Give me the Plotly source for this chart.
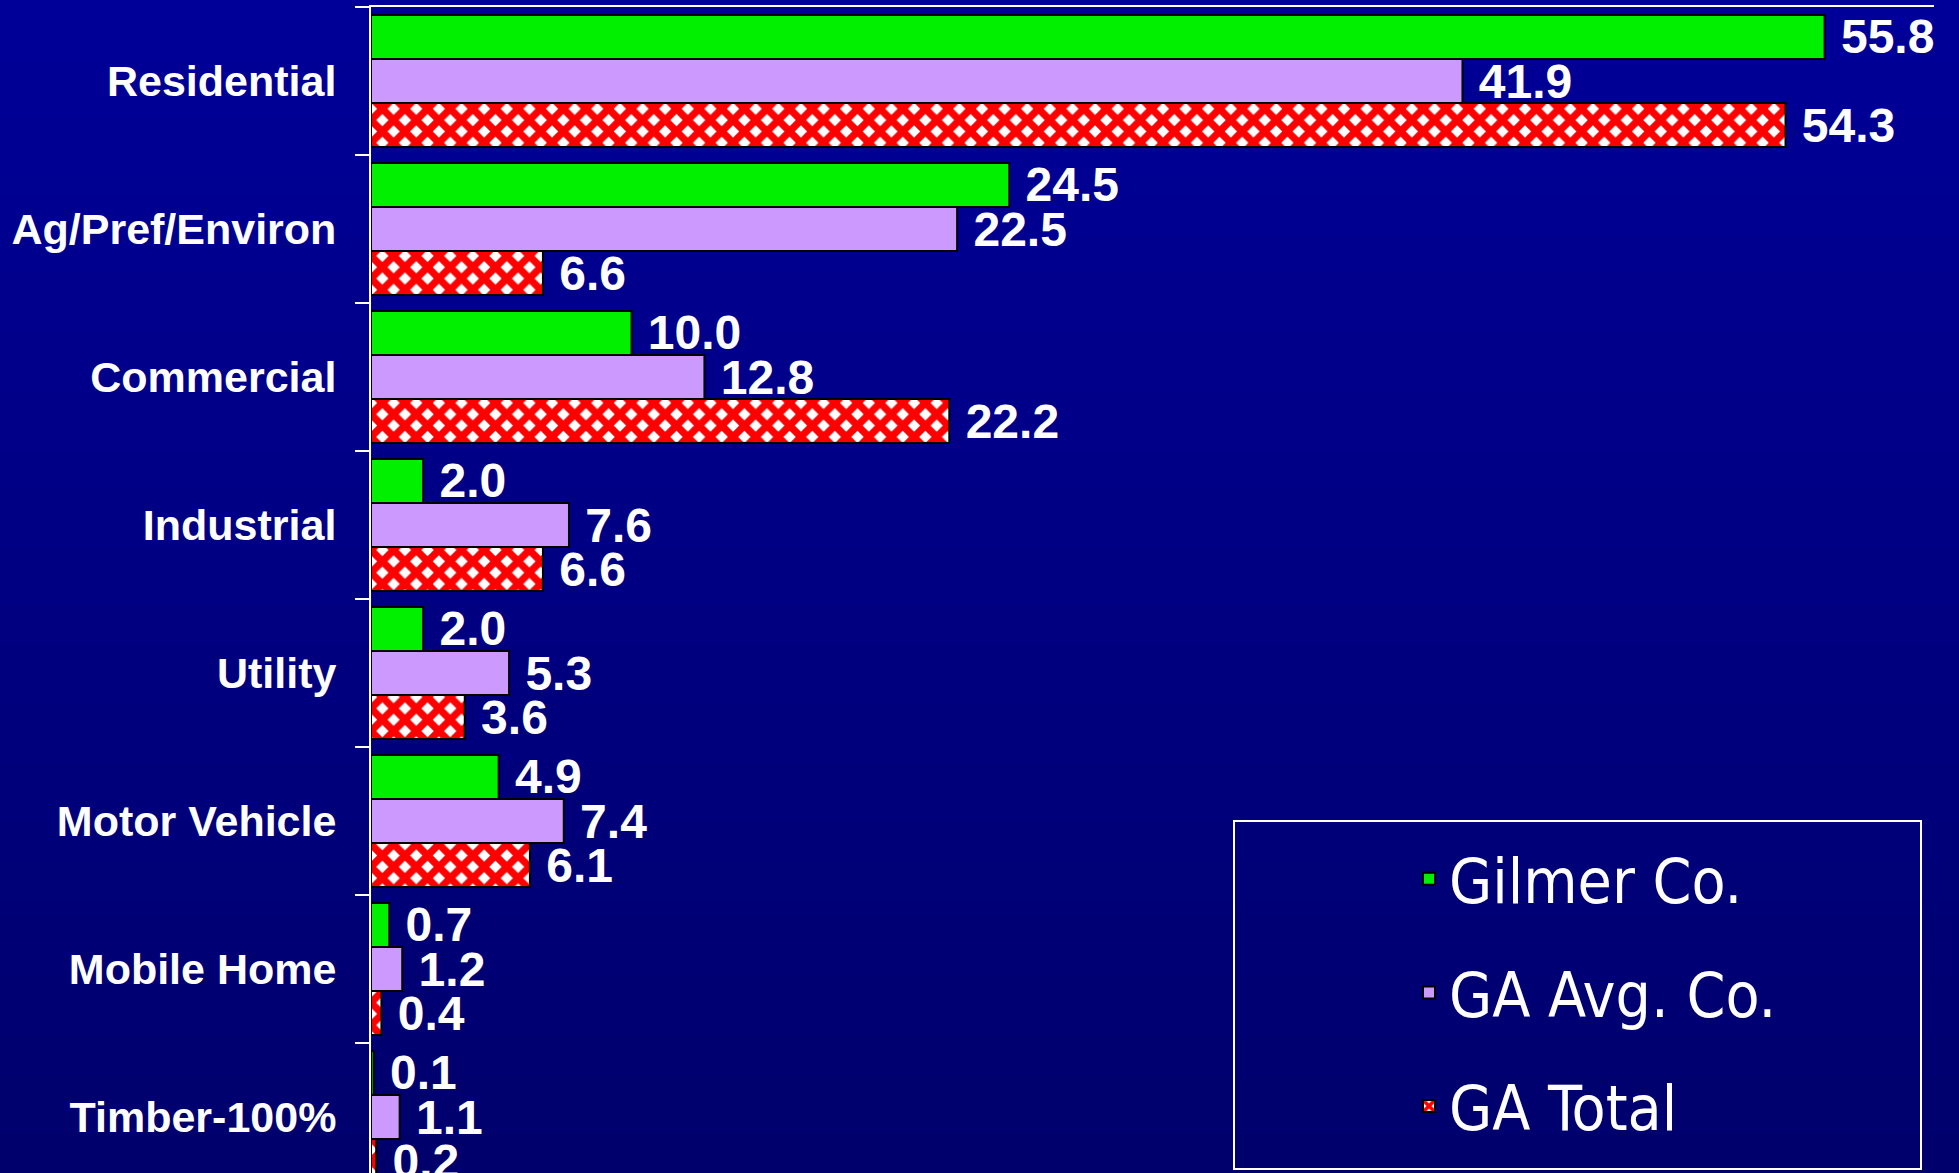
import plotly.graph_objects as go

categories = ["Residential", "Ag/Pref/Environ", "Commercial", "Industrial",
              "Utility", "Motor Vehicle", "Mobile Home", "Timber-100%"]
gilmer = [55.8, 24.5, 10.0, 2.0, 2.0, 4.9, 0.7, 0.1]
ga_avg = [41.9, 22.5, 12.8, 7.6, 5.3, 7.4, 1.2, 1.1]
ga_total = [54.3, 6.6, 22.2, 6.6, 3.6, 6.1, 0.4, 0.2]
series_names = ["Gilmer Co.", "GA Avg. Co.", "GA Total"]

W, H = 1959, 1173
L, R, T, B = 371, 25, 7, 0
pw, ph = W - L - R, H - T - B

def px(x):
    return (x - L) / pw

def py(y):
    return (H - y) / ph

label_font = dict(family="Liberation Sans, Arial, sans-serif", size=48, color="white", weight="bold")

fig = go.Figure()
fig.add_trace(go.Bar(
    y=categories, x=gilmer, name=series_names[0], orientation="h",
    marker=dict(color="#00F000", line=dict(color="black", width=2)),
    texttemplate="\u00a0%{x:.1f}", textposition="outside", outsidetextfont=label_font,
    constraintext="none", cliponaxis=False, legendgroup="a",
))
fig.add_trace(go.Bar(
    y=categories, x=ga_avg, name=series_names[1], orientation="h",
    marker=dict(color="#CC99FF", line=dict(color="black", width=2)),
    texttemplate="\u00a0%{x:.1f}", textposition="outside", outsidetextfont=label_font,
    constraintext="none", cliponaxis=False, legendgroup="b",
))
fig.add_trace(go.Bar(
    y=categories, x=ga_total, name=series_names[2], orientation="h",
    marker=dict(color="#FF0000", line=dict(color="black", width=2),
                pattern=dict(shape="x", fgcolor="#FF0000", bgcolor="white",
                             size=16, solidity=0.7, fillmode="replace")),
    texttemplate="\u00a0%{x:.1f}", textposition="outside", outsidetextfont=label_font,
    constraintext="none", cliponaxis=False, legendgroup="c",
))

# background vertical gradient (styling only)
shapes = []
nb = 60
top_c, bot_c = 152, 108
for i in range(nb):
    y0 = i * H / nb
    y1 = (i + 1) * H / nb + 1
    c = round(top_c + (bot_c - top_c) * (i + 0.5) / nb)
    shapes.append(dict(type="rect", xref="paper", yref="paper",
                       x0=px(0), x1=px(W), y0=py(y1), y1=py(y0),
                       fillcolor=f"rgb(0,0,{c})", line=dict(width=0), layer="below"))
# legend frame
shapes.append(dict(type="rect", xref="paper", yref="paper",
                   x0=px(1234), x1=px(1921), y0=py(1169), y1=py(821),
                   line=dict(color="white", width=2), fillcolor="rgba(0,0,0,0)", layer="above"))

fig.update_layout(
    width=W, height=H,
    margin=dict(l=L, r=R, t=T, b=B, pad=0),
    paper_bgcolor="rgb(0,0,130)", plot_bgcolor="rgba(0,0,0,0)",
    barmode="group", bargap=0.108, bargroupgap=0,
    shapes=shapes,
    showlegend=True,
    legend=dict(x=px(1409), y=py(832), xanchor="left", yanchor="top",
                bgcolor="rgba(0,0,0,0)", borderwidth=0, traceorder="grouped",
                tracegroupgap=30, itemwidth=30,
                font=dict(family="Liberation Sans Narrow, Arial Narrow, DejaVu Sans Condensed, sans-serif",
                          size=62, color="white")),
    xaxis=dict(range=[0, 60], side="top", showline=True, linecolor="white", linewidth=2,
               showticklabels=False, ticks="", showgrid=False, zeroline=False, fixedrange=True),
    yaxis=dict(categoryorder="array", categoryarray=categories,
               range=[-0.5 + (H - T) / 148, -0.5],
               showline=True, linecolor="white", linewidth=2,
               ticks="outside", ticklen=14, tickwidth=2, tickcolor="white", tickson="boundaries",
               ticklabelstandoff=24, showgrid=False, zeroline=False,
               tickfont=dict(family="Liberation Sans, Arial, sans-serif", size=43, color="white", weight="bold")),
)

fig.write_html("out.html", config={"displayModeBar": False},
               post_script="document.body.style.margin='0';document.body.style.overflow='hidden';")
